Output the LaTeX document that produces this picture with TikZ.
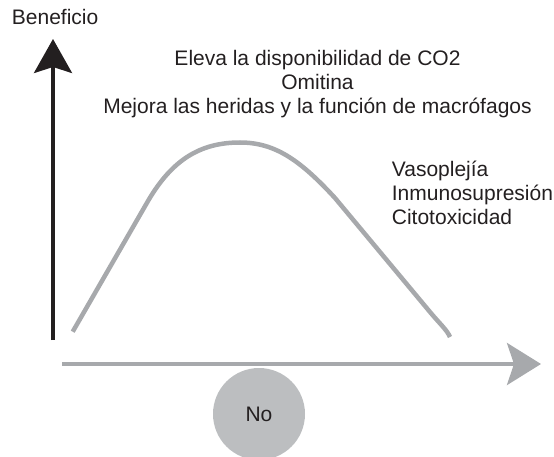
\documentclass[tikz,border=0pt]{standalone}
\usepackage{fontspec}
\setmainfont{Liberation Sans}
\usetikzlibrary{positioning, arrows.meta}
\definecolor{ejegris}{HTML}{A7A9AC}
\definecolor{circulogris}{HTML}{BCBEC0}
\definecolor{tinta}{HTML}{231F20}

\begin{document}
\begin{tikzpicture}
            [x=1pt, y=-1pt,
            font=\fontsize{21}{24}\selectfont,
            rotulo/.style={
                inner sep=0pt,
                text=tinta
            },
            ejeY/.style={
                draw=tinta, line width=3.5pt,
                -{Stealth[length=34pt, width=38pt, inset=6pt]}
            },
            ejeX/.style={
                draw=ejegris, line width=4pt,
                -{Stealth[length=34pt, width=42pt, inset=7pt]}
            },
            curva/.style={draw=ejegris, line width=4.5pt},
            circulo/.style={
                circle,
                fill=circulogris,
                minimum size=92pt,
                inner sep=0pt,
                text=tinta
            }
            ]
            \useasboundingbox (0,0) rectangle (554,457);

            % Ejes
            \coordinate (origenY) at (53,340);
            \coordinate (topeY) at (53,39);
            \coordinate (origenX) at (62,364);
            \coordinate (topeX) at (541,364);
            \path [ejeY] (origenY) -- (topeY);
            \path [ejeX] (origenX) -- (topeX);

            % Curva de beneficio
            \path [curva] (72.7,331.7) -- (148,201)
                .. controls (172,160) and (200,142.5) .. (240,142.5)
                .. controls (275,142.5) and (300,160) .. (335,198)
                -- (430,312)
                .. controls (440,324) and (447,330) .. (450,337);

            % Textos
            \node[rotulo, anchor=base west] (beneficio) at (11.7,25) {Beneficio};
            \node[rotulo, anchor=north, align=center] (ventajas) at (317.5,50.5)
                {Eleva la disponibilidad de CO2\\Omitina\\Mejora las heridas y la función de macrófagos};
            \node[rotulo, anchor=north west, align=left] (riesgos) at (391.7,160.5)
                {Vasoplejía\\Inmunosupresión\\Citotoxicidad};
            \node[circulo] (no) at (259,414) {No};
\end{tikzpicture}
\end{document}
